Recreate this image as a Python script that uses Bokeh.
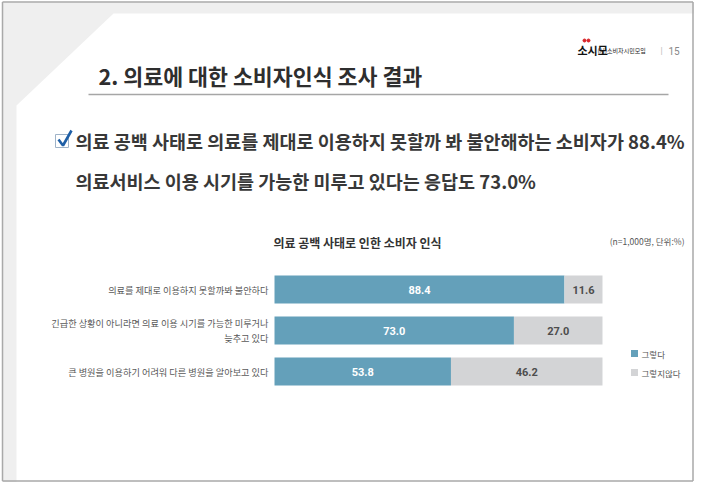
from bokeh.plotting import figure
from bokeh.models import Range1d
from bokeh.core.properties import value
from bokeh.embed import file_html
from bokeh.resources import INLINE

# ---------------- data ----------------
categories = [
    "의료를 제대로 이용하지 못할까봐 불안하다",
    "긴급한 상황이 아니라면 의료 이용 시기를 가능한 미루거나\n늦추고 있다",
    "큰 병원을 이용하기 어려워 다른 병원을 알아보고 있다",
]
yes_values = [88.4, 73.0, 53.8]
no_values = [11.6, 27.0, 46.2]
series_names = ["그렇다", "그렇지않다"]
chart_title = "의료 공백 사태로 인한 소비자 인식"
chart_note = "(n=1,000명, 단위:%)"
headline = "2. 의료에 대한 소비자인식 조사 결과"
bullet_lines = [
    "의료 공백 사태로 의료를 제대로 이용하지 못할까 봐 불안해하는 소비자가 88.4%",
    "의료서비스 이용 시기를 가능한 미루고 있다는 응답도 73.0%",
]
page_number = "15"
logo_text = "소시모"
logo_sub = "(사)소비자시민모임"

# ---------------- styles ----------------
KR = value("Noto Sans CJK KR")
NUM = value("Roboto")
BLUE = "#64a0ba"
GRAY = "#d3d4d6"
series_colors = [BLUE, GRAY]

W, H = 694, 482
p = figure(width=W, height=H, output_backend="svg", toolbar_location=None,
           x_range=Range1d(-83.54, 128.05), y_range=Range1d(4.707, -7.049),
           x_axis_type=None, y_axis_type=None, min_border=0,
           outline_line_color=None, background_fill_color="white",
           border_fill_color="white")
p.grid.visible = False
p.extra_x_ranges = {"px": Range1d(0, W)}
p.extra_y_ranges = {"px": Range1d(H, 0)}
PX = dict(x_range_name="px", y_range_name="px")

# slide background
p.quad(left=[2], right=[W], top=[2], bottom=[H], fill_color="#efefef",
       line_color=None, **PX)
p.patch(x=[113, W, W, 16, 16], y=[13, 13, H, H, 105],
        fill_color="white", line_color=None, **PX)
p.multi_line(xs=[[2, 2], [692.5, 692.5], [2, 692.5], [2, 692.5]],
             ys=[[1.5, 480.5], [1.5, 480.5], [480.5, 480.5], [1.5, 1.5]],
             line_color="#a9a9a9", line_width=1.5, **PX)

# logo + page number
p.scatter(x=[584, 588], y=[40, 40], size=3, color="#d9262b", **PX)
p.text(x=[577], y=[49], text=[logo_text], text_font=KR, text_font_style="bold",
       text_font_size="11px", text_color="#111111", text_baseline="middle", **PX)
p.text(x=[597], y=[50], text=[logo_sub], text_font=KR, text_font_size="6px",
       text_color="#222222", text_baseline="middle", **PX)
p.text(x=[661], y=[50], text=["|"], text_font=NUM, text_font_size="9px",
       text_color="#bbbbbb", text_baseline="middle", text_align="center", **PX)
p.text(x=[668], y=[50], text=[page_number], text_font=NUM, text_font_size="10px",
       text_color="#888888", text_baseline="middle", **PX)

# headline
p.text(x=[98], y=[75], text=[headline], text_font=KR, text_font_style="bold",
       text_font_size="21.7px", text_color="#2e2e2e", text_baseline="middle", **PX)
p.line(x=[88, 668], y=[94, 94], line_color="#a6a6a6", line_width=1.5, **PX)

# checkbox
p.quad(left=[55], right=[68], top=[134], bottom=[147], fill_color="white",
       line_color="#9fb3c8", line_width=1, **PX)
p.line(x=[58, 62.5, 71], y=[139, 145, 130], line_color="#1f5fa6", line_width=2.6,
       **PX)

# bullet lines
p.text(x=[75, 75], y=[140, 180], text=bullet_lines, text_font=KR,
       text_font_style="bold", text_font_size="18.5px", text_color="#383838",
       text_baseline="middle", **PX)

# chart title + note
p.text(x=[357], y=[242], text=[chart_title], text_font=KR, text_font_style="bold",
       text_font_size="12px", text_color="#333333", text_baseline="middle",
       text_align="center", **PX)
p.text(x=[684], y=[240], text=[chart_note], text_font=KR, text_font_size="8.5px",
       text_color="#555555", text_baseline="middle", text_align="right", **PX)

# ---------------- bars ----------------
idx = list(range(len(categories)))
totals = [a + b for a, b in zip(yes_values, no_values)]
p.hbar(y=idx, left=0, right=yes_values, height=0.68, fill_color=BLUE,
       line_color=None)
p.hbar(y=idx, left=yes_values, right=totals, height=0.68, fill_color=GRAY,
       line_color=None)

p.text(x=[v / 2 for v in yes_values], y=idx, text=[f"{v:.1f}" for v in yes_values],
       text_font=NUM, text_font_style="bold", text_font_size="11px",
       text_color="white", text_align="center", text_baseline="middle")
p.text(x=[a + b / 2 for a, b in zip(yes_values, no_values)], y=idx,
       text=[f"{v:.1f}" for v in no_values], text_font=NUM,
       text_font_style="bold", text_font_size="11px", text_color="#4d4d4d",
       text_align="center", text_baseline="middle")

p.text(x=[0] * len(idx), y=idx, text=categories, x_offset=-6, text_font=KR,
       text_font_size="9.2px", text_color="#595959", text_align="right",
       text_baseline="middle", text_line_height=1.1)

# legend
legend_y = [353, 372]
p.rect(x=[634] * 2, y=legend_y, width=7, height=7, fill_color=series_colors,
       line_color=None, **PX)
p.text(x=[641] * 2, y=legend_y, text=series_names, text_font=KR,
       text_font_size="8.5px", text_color="#555555", text_baseline="middle", **PX)

open("out.html", "w").write(file_html(p, INLINE))
